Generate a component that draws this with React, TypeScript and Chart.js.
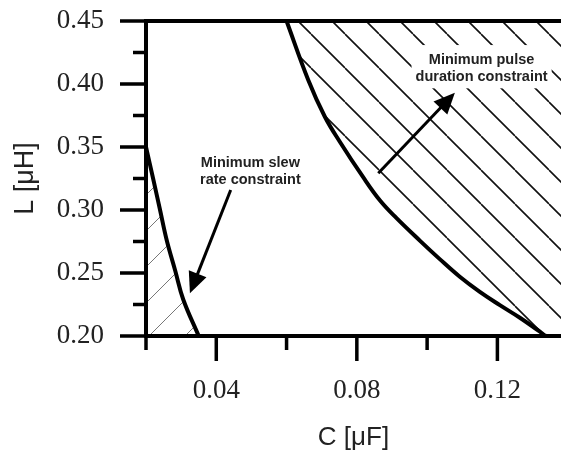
import React, { useEffect, useRef } from 'react';
import { Chart, registerables } from 'chart.js';

Chart.register(...registerables);

// ---- Data ----
const slewC = [0.02, 0.0221, 0.024, 0.0259, 0.0283, 0.0306, 0.035];
const slewL = [0.35, 0.324, 0.3, 0.276, 0.252, 0.229, 0.2];

const pulseC = [0.06, 0.0662, 0.0709, 0.0752, 0.0818, 0.0866, 0.0913, 0.098, 0.1036, 0.1093, 0.115, 0.1207, 0.1264, 0.1321, 0.134, 0.145];
const pulseL = [0.45, 0.403, 0.374, 0.354, 0.326, 0.3075, 0.2935, 0.2755, 0.261, 0.247, 0.235, 0.2245, 0.2145, 0.2035, 0.2, 0.2];

const xRange = [0.02, 0.1381];
const yRange = [0.2, 0.45];

const xTickValues = [0.02, 0.04, 0.06, 0.08, 0.1, 0.12];
const xTickLabels = ['', '0.04', '', '0.08', '', '0.12'];
const yTickValues = [0.2, 0.225, 0.25, 0.275, 0.3, 0.325, 0.35, 0.375, 0.4, 0.425, 0.45];
const yTickLabels = ['0.20', '', '0.25', '', '0.30', '', '0.35', '', '0.40', '', '0.45'];

const xTitle = 'C [μF]';
const yTitle = 'L [μH]';

// annotations (data coordinates)
const noteTexts = [
  ['Minimum slew', 'rate constraint'],
  ['Minimum pulse', 'duration constraint'],
];
const noteC = [0.0497, 0.1155];
const noteL1 = [0.337, 0.419];
const noteL2 = [0.3238, 0.4053];
const noteBoxed = [false, true];

const arrowFromC = [0.0441, 0.0861];
const arrowFromL = [0.3159, 0.3291];
const arrowToC = [0.0325, 0.1079];
const arrowToL = [0.2339, 0.3931];

const SERIF = '"Liberation Serif", "Times New Roman", serif';
const SANS = '"Liberation Sans", Arial, sans-serif';

function makeHatch(ctx: CanvasRenderingContext2D, size: number, forward: boolean, color: string, width: number, offset: number) {
  const tile = document.createElement('canvas');
  tile.width = size;
  tile.height = size;
  const g = tile.getContext('2d')!;
  g.strokeStyle = color;
  g.lineWidth = width;
  g.beginPath();
  for (let k = -1; k <= 1; k++) {
    if (forward) {
      g.moveTo(k * size, size);
      g.lineTo(k * size + size, 0);
    } else {
      g.moveTo(k * size, 0);
      g.lineTo(k * size + size, size);
    }
  }
  g.stroke();
  const p = ctx.createPattern(tile, 'repeat')!;
  try {
    p.setTransform(new DOMMatrix().translate(offset, 0));
  } catch (e) {}
  return p;
}

function drawArrow(ctx: CanvasRenderingContext2D, x1: number, y1: number, x2: number, y2: number) {
  const ang = Math.atan2(y2 - y1, x2 - x1);
  const headLen = 21;
  const headHalf = 9.5;
  const bx = x2 - headLen * Math.cos(ang);
  const by = y2 - headLen * Math.sin(ang);
  ctx.beginPath();
  ctx.moveTo(x1, y1);
  ctx.lineTo(bx + 2 * Math.cos(ang), by + 2 * Math.sin(ang));
  ctx.lineWidth = 3;
  ctx.strokeStyle = '#000';
  ctx.stroke();
  ctx.beginPath();
  ctx.moveTo(x2, y2);
  ctx.lineTo(bx + headHalf * Math.sin(ang), by - headHalf * Math.cos(ang));
  ctx.lineTo(bx - headHalf * Math.sin(ang), by + headHalf * Math.cos(ang));
  ctx.closePath();
  ctx.fillStyle = '#000';
  ctx.fill();
}

const decorPlugin = {
  id: 'decor',
  afterDatasetsDraw(chart: any) {
    const { ctx, scales } = chart;
    const x = scales.x;
    const y = scales.y;
    ctx.save();
    ctx.font = 'bold 14.5px ' + SANS;
    ctx.textAlign = 'center';
    ctx.textBaseline = 'middle';
    for (let i = 0; i < noteTexts.length; i++) {
      const cx = x.getPixelForValue(noteC[i]);
      const y1 = y.getPixelForValue(noteL1[i]);
      const y2 = y.getPixelForValue(noteL2[i]);
      if (noteBoxed[i]) {
        const w = Math.max(...noteTexts[i].map((t) => ctx.measureText(t).width));
        ctx.fillStyle = '#fff';
        ctx.fillRect(cx - w / 2 - 4, y1 - 15, w + 8, y2 - y1 + 26);
      }
      ctx.fillStyle = '#222';
      ctx.fillText(noteTexts[i][0], cx, y1);
      ctx.fillText(noteTexts[i][1], cx, y2);
    }
    for (let i = 0; i < arrowFromC.length; i++) {
      drawArrow(
        ctx,
        x.getPixelForValue(arrowFromC[i]),
        y.getPixelForValue(arrowFromL[i]),
        x.getPixelForValue(arrowToC[i]),
        y.getPixelForValue(arrowToL[i])
      );
    }
    ctx.restore();
  },
  afterDraw(chart: any) {
    const { ctx, chartArea, scales } = chart;
    const x = scales.x;
    const y = scales.y;
    const { left, right, top, bottom } = chartArea;
    ctx.save();
    ctx.strokeStyle = '#000';
    ctx.lineCap = 'butt';
    ctx.lineWidth = 4;
    ctx.beginPath();
    ctx.moveTo(left, top - 2);
    ctx.lineTo(left, bottom + 2);
    ctx.moveTo(left - 2, bottom);
    ctx.lineTo(right, bottom);
    ctx.moveTo(left - 2, top);
    ctx.lineTo(right, top);
    ctx.stroke();
    ctx.lineWidth = 3.5;
    ctx.beginPath();
    yTickValues.forEach((v, i) => {
      const py = y.getPixelForValue(v);
      const len = yTickLabels[i] ? 26 : 13;
      ctx.moveTo(left - len, py);
      ctx.lineTo(left, py);
    });
    xTickValues.forEach((v, i) => {
      const px = x.getPixelForValue(v);
      const len = xTickLabels[i] ? 25 : 14;
      ctx.moveTo(px, bottom);
      ctx.lineTo(px, bottom + len);
    });
    ctx.stroke();
    ctx.restore();
  },
};

export default function App() {
  const canvasRef = useRef<HTMLCanvasElement | null>(null);

  useEffect(() => {
    const canvas = canvasRef.current!;
    const ctx = canvas.getContext('2d')!;
    const pulseHatch = makeHatch(ctx, 34, false, '#111', 1.6, 5);
    const slewHatch = makeHatch(ctx, 36, true, '#777', 1, 17);

    const chart = new Chart(canvas, {
      type: 'line',
      data: {
        datasets: [
          {
            label: 'slew',
            data: slewC.map((c, i) => ({ x: c, y: slewL[i] })),
            borderColor: '#000',
            borderWidth: 4,
            backgroundColor: slewHatch as any,
            fill: 'start',
            pointRadius: 0,
            tension: 0.4,
          },
          {
            label: 'pulse',
            data: pulseC.map((c, i) => ({ x: c, y: pulseL[i] })),
            borderColor: '#000',
            borderWidth: 4,
            backgroundColor: pulseHatch as any,
            fill: 'end',
            pointRadius: 0,
            tension: 0.4,
          },
        ],
      },
      options: {
        responsive: true,
        maintainAspectRatio: false,
        animation: false,
        events: [],
        layout: { padding: { top: 21, right: 0, bottom: 0, left: 0 } },
        plugins: {
          legend: { display: false },
          tooltip: { enabled: false },
        },
        scales: {
          x: {
            type: 'linear',
            min: xRange[0],
            max: xRange[1],
            afterBuildTicks: (s: any) => {
              s.ticks = xTickValues.map((v) => ({ value: v }));
            },
            afterFit: (s: any) => {
              s.height = 115;
            },
            grid: { display: false, drawTicks: true, tickLength: 37 },
            border: { display: false },
            ticks: {
              autoSkip: false,
              maxRotation: 0,
              padding: 2,
              color: '#222',
              font: { family: SERIF, size: 27 },
              callback: (_v: any, i: number) => xTickLabels[i],
            },
            title: {
              display: true,
              text: xTitle,
              color: '#222',
              font: { family: SANS, size: 26, lineHeight: 1 },
              padding: { top: 0, bottom: 0 },
            },
          },
          y: {
            type: 'linear',
            min: yRange[0],
            max: yRange[1],
            afterBuildTicks: (s: any) => {
              s.ticks = yTickValues.map((v) => ({ value: v }));
            },
            afterFit: (s: any) => {
              s.width = 146;
            },
            grid: { display: false, drawTicks: true, tickLength: 40 },
            border: { display: false },
            ticks: {
              autoSkip: false,
              padding: 2,
              color: '#222',
              font: { family: SERIF, size: 27 },
              callback: (_v: any, i: number) => yTickLabels[i],
            },
            title: {
              display: true,
              text: yTitle,
              color: '#222',
              font: { family: SANS, size: 27, lineHeight: 1 },
              padding: { top: 12, bottom: 0 },
            },
          },
        },
      },
      plugins: [decorPlugin],
    } as any);

    return () => chart.destroy();
  }, []);

  return (
    <div style={{ position: 'fixed', left: 0, top: 0, width: 561, height: 451, background: '#fff' }}>
      <canvas ref={canvasRef} />
    </div>
  );
}
